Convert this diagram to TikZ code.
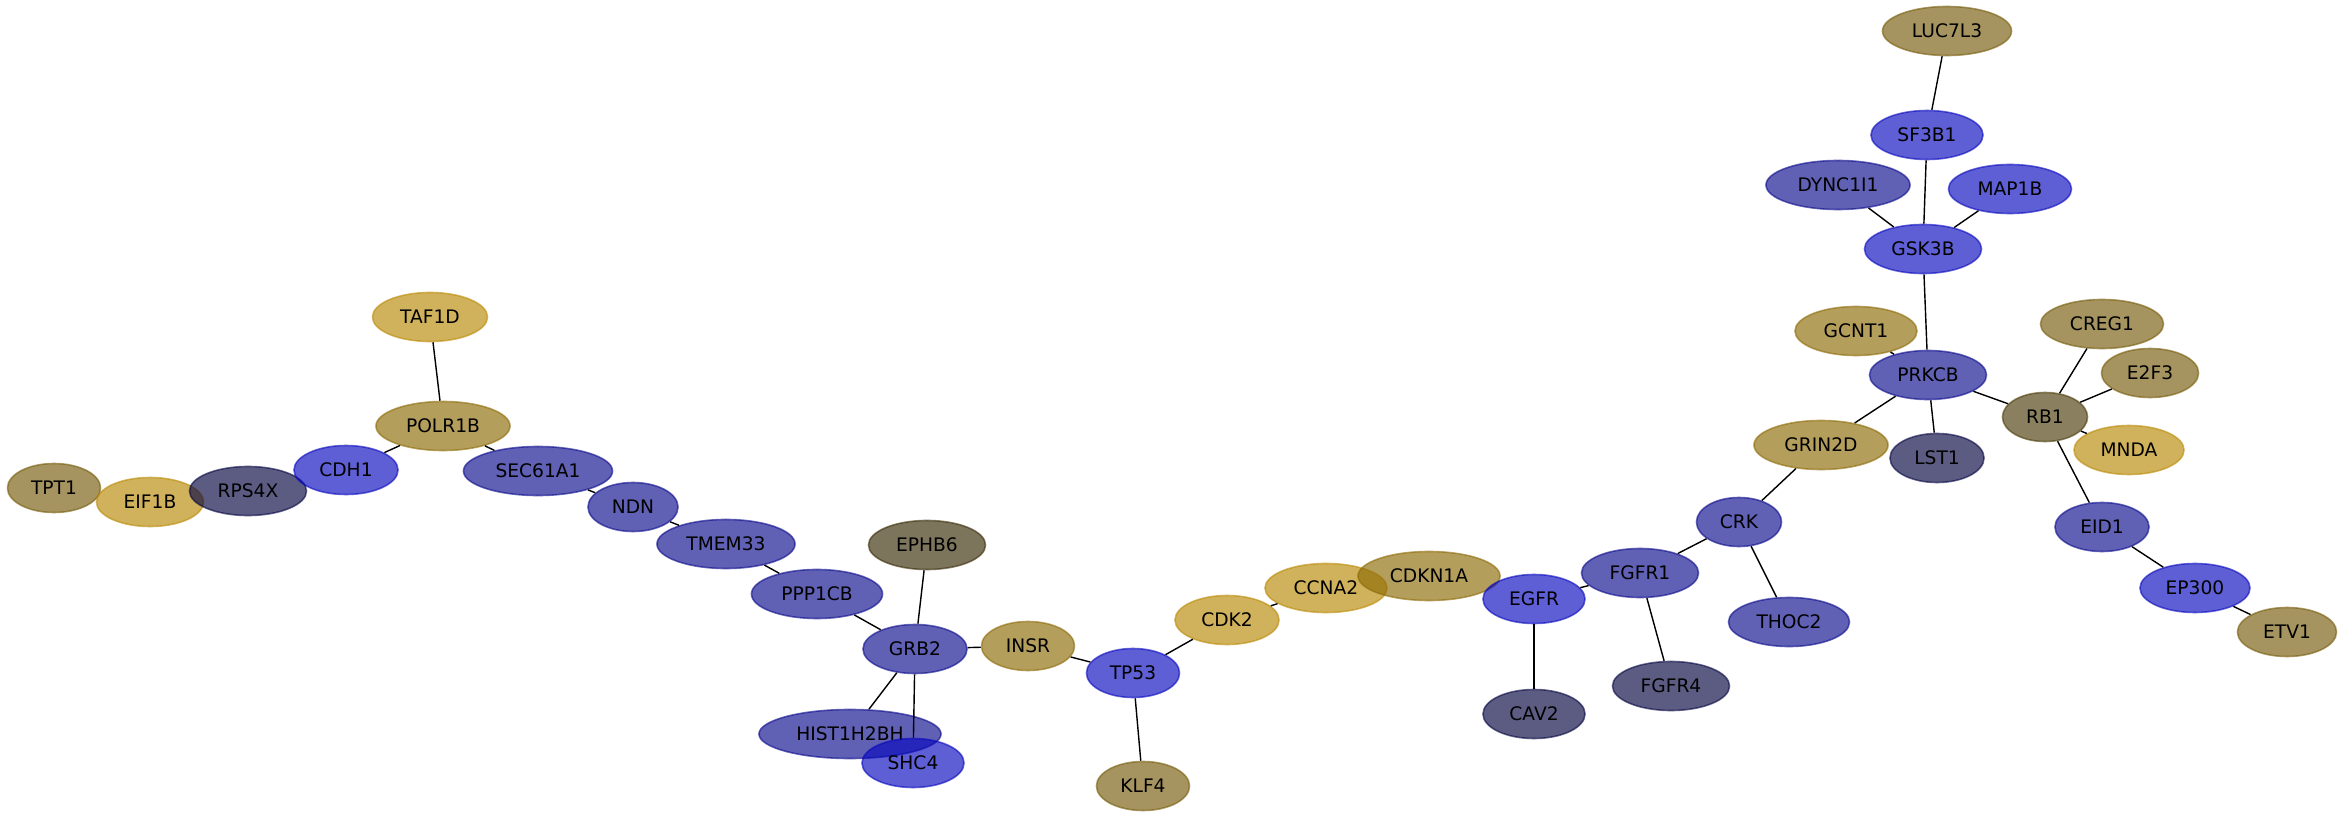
\documentclass[tikz,border=0pt]{standalone}
\usepackage{fontspec}
\setmainfont{DejaVu Sans}
\usepackage{xcolor}
\usepackage{tikz}
\usetikzlibrary{
    shapes.geometric
}
\definecolor{blueA}{RGB}{8, 8, 190}
\definecolor{blueB}{RGB}{10, 10, 140}
\definecolor{blueC}{RGB}{5, 5, 65}
\definecolor{goldA}{RGB}{185, 137, 5}
\definecolor{goldB}{RGB}{140, 106, 5}
\definecolor{goldC}{RGB}{117, 91, 10}
\definecolor{brownA}{RGB}{55, 42, 5}
\definecolor{brownB}{RGB}{75, 60, 10}

\begin{document}
\begin{tikzpicture}[x=0.01cm, y=-0.01cm,
        gene/.style={ellipse, minimum height=0.49cm, inner sep=0pt,
            fill opacity=0.65, text opacity=1, draw opacity=0.6,
            line width=0.45pt, font=\fontsize{5.3}{6}\selectfont},
        ga/.style={gene, fill=goldA, draw=goldA},
        gb/.style={gene, fill=goldB, draw=goldB},
        gc/.style={gene, fill=goldC, draw=goldC},
        ba/.style={gene, fill=blueA, draw=blueA},
        bb/.style={gene, fill=blueB, draw=blueB},
        bc/.style={gene, fill=blueC, draw=blueC},
        edge/.style={line width=0.4pt}]
    \useasboundingbox (0,0) rectangle (2344,818);

    % left chain
    \node[gc, minimum width=0.93cm] (TPT1) at (54,488) {TPT1};
    \node[ga, minimum width=1.07cm] (EIF1B) at (150,502) {EIF1B};
    \node[bc, minimum width=1.17cm] (RPS4X) at (248,491) {RPS4X};
    \node[ba, minimum width=1.04cm] (CDH1) at (346,470) {CDH1};
    \node[ga, minimum width=1.15cm] (TAF1D) at (430,317) {TAF1D};
    \node[gb, minimum width=1.34cm] (POLR1B) at (443,426) {POLR1B};
    \node[bb, minimum width=1.49cm] (SEC61A1) at (538,471) {SEC61A1};
    \node[bb, minimum width=0.90cm] (NDN) at (633,507) {NDN};
    \node[bb, minimum width=1.38cm] (TMEM33) at (726,544) {TMEM33};
    \node[bb, minimum width=1.31cm] (PPP1CB) at (817,594) {PPP1CB};
    \node[gene, fill=brownA, draw=brownA, minimum width=1.17cm] (EPHB6) at (927,545) {EPHB6};
    \node[bb, minimum width=1.04cm] (GRB2) at (915,649) {GRB2};
    \node[bb, minimum width=1.82cm] (HIST1H2BH) at (850,734) {HIST1H2BH};
    \node[ba, minimum width=1.02cm] (SHC4) at (913,763) {SHC4};
    \node[gb, minimum width=0.93cm] (INSR) at (1028,646) {INSR};
    \node[ba, minimum width=0.93cm] (TP53) at (1133,673) {TP53};
    \node[gc, minimum width=0.93cm] (KLF4) at (1143,786) {KLF4};
    \node[ga, minimum width=1.04cm] (CDK2) at (1227,620) {CDK2};
    \node[ga, minimum width=1.22cm] (CCNA2) at (1326,588) {CCNA2};
    \node[gb, minimum width=1.42cm] (CDKN1A) at (1429,576) {CDKN1A};

    % middle
    \node[ba, minimum width=1.02cm] (EGFR) at (1534,599) {EGFR};
    \node[bc, minimum width=1.02cm] (CAV2) at (1534,714) {CAV2};
    \node[bb, minimum width=1.17cm] (FGFR1) at (1640,573) {FGFR1};
    \node[bc, minimum width=1.17cm] (FGFR4) at (1671,686) {FGFR4};
    \node[bb, minimum width=0.85cm] (CRK) at (1739,522) {CRK};
    \node[bb, minimum width=1.21cm] (THOC2) at (1789,622) {THOC2};
    \node[gb, minimum width=1.34cm] (GRIN2D) at (1821,445) {GRIN2D};

    % right cluster
    \node[bb, minimum width=1.17cm] (PRKCB) at (1928,375) {PRKCB};
    \node[bc, minimum width=0.94cm] (LST1) at (1937,458) {LST1};
    \node[gb, minimum width=1.22cm] (GCNT1) at (1856,331) {GCNT1};
    \node[ba, minimum width=1.17cm] (GSK3B) at (1923,249) {GSK3B};
    \node[bb, minimum width=1.44cm] (DYNC1I1) at (1838,185) {DYNC1I1};
    \node[ba, minimum width=1.23cm] (MAP1B) at (2010,189) {MAP1B};
    \node[ba, minimum width=1.12cm] (SF3B1) at (1927,135) {SF3B1};
    \node[gc, minimum width=1.29cm] (LUC7L3) at (1947,31) {LUC7L3};
    \node[gene, fill=brownB, draw=brownB, minimum width=0.85cm] (RB1) at (2045,417) {RB1};
    \node[gc, minimum width=1.23cm] (CREG1) at (2102,324) {CREG1};
    \node[gc, minimum width=0.97cm] (E2F3) at (2150,373) {E2F3};
    \node[ga, minimum width=1.10cm] (MNDA) at (2129,450) {MNDA};
    \node[bb, minimum width=0.94cm] (EID1) at (2102,527) {EID1};
    \node[ba, minimum width=1.10cm] (EP300) at (2195,588) {EP300};
    \node[gc, minimum width=0.99cm] (ETV1) at (2287,632) {ETV1};

    % interactions
    \draw[edge] (CDH1) -- (POLR1B);
    \draw[edge] (TAF1D) -- (POLR1B);
    \draw[edge] (POLR1B) -- (SEC61A1);
    \draw[edge] (SEC61A1) -- (NDN);
    \draw[edge] (NDN) -- (TMEM33);
    \draw[edge] (TMEM33) -- (PPP1CB);
    \draw[edge] (PPP1CB) -- (GRB2);
    \draw[edge] (EPHB6) -- (GRB2);
    \draw[edge] (GRB2) -- (INSR);
    \draw[edge] (GRB2) -- (HIST1H2BH);
    \draw[edge] (GRB2) -- (SHC4);
    \draw[edge] (INSR) -- (TP53);
    \draw[edge] (TP53) -- (KLF4);
    \draw[edge] (TP53) -- (CDK2);
    \draw[edge] (CDK2) -- (CCNA2);
    \draw[edge] (EGFR) -- (FGFR1);
    \draw[edge] (EGFR) -- (CAV2);
    \draw[edge] (FGFR1) -- (FGFR4);
    \draw[edge] (FGFR1) -- (CRK);
    \draw[edge] (CRK) -- (THOC2);
    \draw[edge] (CRK) -- (GRIN2D);
    \draw[edge] (GRIN2D) -- (PRKCB);
    \draw[edge] (PRKCB) -- (LST1);
    \draw[edge] (PRKCB) -- (GCNT1);
    \draw[edge] (PRKCB) -- (GSK3B);
    \draw[edge] (PRKCB) -- (RB1);
    \draw[edge] (GSK3B) -- (DYNC1I1);
    \draw[edge] (GSK3B) -- (MAP1B);
    \draw[edge] (GSK3B) -- (SF3B1);
    \draw[edge] (SF3B1) -- (LUC7L3);
    \draw[edge] (RB1) -- (CREG1);
    \draw[edge] (RB1) -- (E2F3);
    \draw[edge] (RB1) -- (MNDA);
    \draw[edge] (RB1) -- (EID1);
    \draw[edge] (EID1) -- (EP300);
    \draw[edge] (EP300) -- (ETV1);
\end{tikzpicture}
\end{document}
